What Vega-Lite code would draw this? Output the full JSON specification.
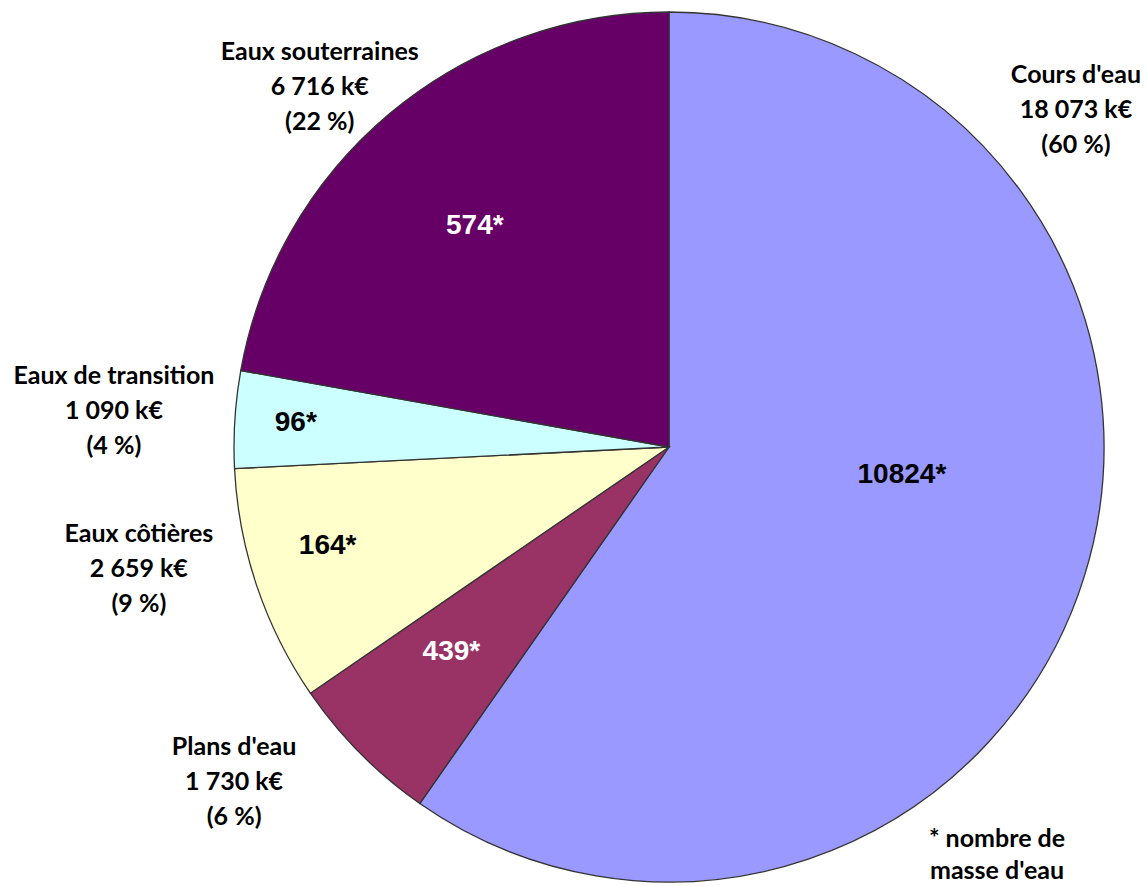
{
  "$schema": "https://vega.github.io/schema/vega-lite/v6.json",
  "width": 956,
  "height": 878,
  "autosize": {"type": "none"},
  "padding": {"left": 191, "top": 8, "right": 0, "bottom": 0},
  "background": "white",
  "config": {"view": {"stroke": null}},
  "title": {
    "text": ["* nombre de", "masse d'eau"],
    "orient": "bottom",
    "anchor": "end",
    "frame": "group",
    "align": "center",
    "dx": -150,
    "offset": -59,
    "font": "Lato",
    "fontSize": 25,
    "fontWeight": "bold",
    "color": "black",
    "lineHeight": 32
  },
  "data": {
    "values": [
      {"type": "Cours d'eau", "montant": 18073, "pct": 60, "masses": 10824, "rang": 1},
      {"type": "Plans d'eau", "montant": 1730, "pct": 6, "masses": 439, "rang": 2},
      {"type": "Eaux côtières", "montant": 2659, "pct": 9, "masses": 164, "rang": 3},
      {"type": "Eaux de transition", "montant": 1090, "pct": 4, "masses": 96, "rang": 4},
      {"type": "Eaux souterraines", "montant": 6716, "pct": 22, "masses": 574, "rang": 5}
    ]
  },
  "transform": [
    {"calculate": "datum.masses + '*'", "as": "inner"},
    {"calculate": "datum.type + '\\n' + replace(format(datum.montant, ','), ',', ' ') + ' k€\\n(' + datum.pct + ' %)'", "as": "outer"}
  ],
  "encoding": {
    "theta": {"field": "montant", "type": "quantitative", "stack": true},
    "order": {"field": "rang", "type": "quantitative"}
  },
  "layer": [
    {
      "mark": {"type": "arc", "outerRadius": 435, "stroke": "#333333", "strokeWidth": 1.3},
      "encoding": {
        "color": {
          "field": "type",
          "type": "nominal",
          "scale": {
            "domain": ["Cours d'eau", "Plans d'eau", "Eaux côtières", "Eaux de transition", "Eaux souterraines"],
            "range": ["#9999FF", "#993366", "#FFFFCC", "#CCFFFF", "#660066"]
          },
          "legend": null
        }
      }
    },
    {
      "mark": {"type": "text", "radius": 240, "dx": 4, "dy": -44, "font": "Liberation Sans", "fontWeight": "bold", "fontSize": 28, "fill": "black", "align": "center", "baseline": "middle"},
      "encoding": {"detail": {"field": "type"}, "text": {"condition": {"test": "datum.rang === 1", "field": "inner"}, "value": ""}}
    },
    {
      "mark": {"type": "text", "radius": 305, "dx": -1, "dy": -10, "font": "Liberation Sans", "fontWeight": "bold", "fontSize": 28, "fill": "white", "align": "center", "baseline": "middle"},
      "encoding": {"detail": {"field": "type"}, "text": {"condition": {"test": "datum.rang === 2", "field": "inner"}, "value": ""}}
    },
    {
      "mark": {"type": "text", "radius": 355, "dx": -5, "dy": -15, "font": "Liberation Sans", "fontWeight": "bold", "fontSize": 28, "fill": "black", "align": "center", "baseline": "middle"},
      "encoding": {"detail": {"field": "type"}, "text": {"condition": {"test": "datum.rang === 3", "field": "inner"}, "value": ""}}
    },
    {
      "mark": {"type": "text", "radius": 374, "dx": 0, "dy": 0, "font": "Liberation Sans", "fontWeight": "bold", "fontSize": 28, "fill": "black", "align": "center", "baseline": "middle"},
      "encoding": {"detail": {"field": "type"}, "text": {"condition": {"test": "datum.rang === 4", "field": "inner"}, "value": ""}}
    },
    {
      "mark": {"type": "text", "radius": 290, "dx": -8, "dy": 1, "font": "Liberation Sans", "fontWeight": "bold", "fontSize": 28, "fill": "white", "align": "center", "baseline": "middle"},
      "encoding": {"detail": {"field": "type"}, "text": {"condition": {"test": "datum.rang === 5", "field": "inner"}, "value": ""}}
    },
    {
      "mark": {"type": "text", "radius": 435, "dx": -8, "dy": -503, "font": "Lato", "fontWeight": "bold", "fontSize": 25, "lineHeight": 35, "lineBreak": "\n", "fill": "black", "align": "center", "baseline": "middle"},
      "encoding": {"detail": {"field": "type"}, "text": {"condition": {"test": "datum.rang === 1", "field": "outer"}, "value": ""}}
    },
    {
      "mark": {"type": "text", "radius": 435, "dx": -126, "dy": -6, "font": "Lato", "fontWeight": "bold", "fontSize": 25, "lineHeight": 35, "lineBreak": "\n", "fill": "black", "align": "center", "baseline": "middle"},
      "encoding": {"detail": {"field": "type"}, "text": {"condition": {"test": "datum.rang === 2", "field": "outer"}, "value": ""}}
    },
    {
      "mark": {"type": "text", "radius": 435, "dx": -118, "dy": -52, "font": "Lato", "fontWeight": "bold", "fontSize": 25, "lineHeight": 35, "lineBreak": "\n", "fill": "black", "align": "center", "baseline": "middle"},
      "encoding": {"detail": {"field": "type"}, "text": {"condition": {"test": "datum.rang === 3", "field": "outer"}, "value": ""}}
    },
    {
      "mark": {"type": "text", "radius": 435, "dx": -121, "dy": -43, "font": "Lato", "fontWeight": "bold", "fontSize": 25, "lineHeight": 35, "lineBreak": "\n", "fill": "black", "align": "center", "baseline": "middle"},
      "encoding": {"detail": {"field": "type"}, "text": {"condition": {"test": "datum.rang === 4", "field": "outer"}, "value": ""}}
    },
    {
      "mark": {"type": "text", "radius": 435, "dx": -70, "dy": -61, "font": "Lato", "fontWeight": "bold", "fontSize": 25, "lineHeight": 35, "lineBreak": "\n", "fill": "black", "align": "center", "baseline": "middle"},
      "encoding": {"detail": {"field": "type"}, "text": {"condition": {"test": "datum.rang === 5", "field": "outer"}, "value": ""}}
    }
  ]
}
